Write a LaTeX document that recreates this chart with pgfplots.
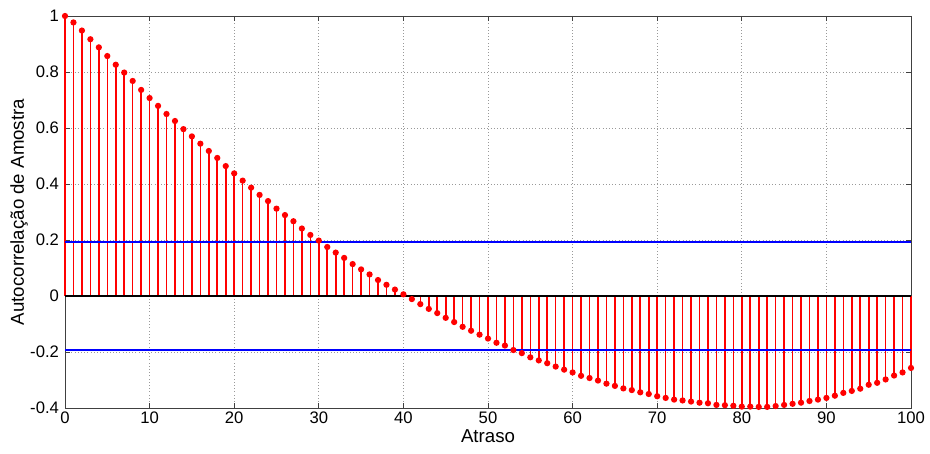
\documentclass[border=0pt]{standalone}
\usepackage{pgfplots}
\pgfplotsset{compat=1.18}
\usepackage{pgfplotstable}
\usepackage{fontspec}
\setmainfont{Liberation Sans}
\pgfplotstableread{
k r
0 1.000
1 0.977
2 0.948
3 0.917
4 0.888
5 0.857
6 0.826
7 0.798
8 0.768
9 0.736
10 0.707
11 0.679
12 0.650
13 0.625
14 0.596
15 0.570
16 0.544
17 0.518
18 0.493
19 0.464
20 0.438
21 0.412
22 0.387
23 0.361
24 0.339
25 0.312
26 0.289
27 0.267
28 0.241
29 0.218
30 0.198
31 0.175
32 0.155
33 0.136
34 0.114
35 0.095
36 0.077
37 0.057
38 0.040
39 0.023
40 0.006
41 -0.011
42 -0.029
43 -0.046
44 -0.061
45 -0.078
46 -0.093
47 -0.110
48 -0.124
49 -0.138
50 -0.152
51 -0.167
52 -0.177
53 -0.193
54 -0.204
55 -0.219
56 -0.230
57 -0.240
58 -0.252
59 -0.263
60 -0.273
61 -0.285
62 -0.293
63 -0.302
64 -0.313
65 -0.321
66 -0.330
67 -0.336
68 -0.344
69 -0.350
70 -0.358
71 -0.364
72 -0.370
73 -0.373
74 -0.377
75 -0.381
76 -0.383
77 -0.389
78 -0.390
79 -0.392
80 -0.395
81 -0.395
82 -0.396
83 -0.396
84 -0.393
85 -0.389
86 -0.385
87 -0.381
88 -0.375
89 -0.370
90 -0.364
91 -0.356
92 -0.346
93 -0.339
94 -0.331
95 -0.317
96 -0.310
97 -0.298
98 -0.284
99 -0.273
100 -0.257
}\acf
\begin{document}
\begin{tikzpicture}
\begin{axis}[
  scale only axis,
  width=634.5pt, height=294pt,
  xmin=0, xmax=100, ymin=-0.4, ymax=1,
  xtick={0,10,...,100},
  ytick={-0.4,-0.2,0,0.2,0.4,0.6,0.8,1},
  yticklabels={-0.4,-0.2,0,0.2,0.4,0.6,0.8,1},
  xticklabels={0,10,20,30,40,50,60,70,80,90,100},
  tick align=inside,
  tick pos=both,
  major tick length=4pt,
  axis line style={black!75, line width=0.6pt},
  every tick/.style={black!75, line width=0.6pt},
  grid=major,
  major grid style={black!40, dotted, line width=0.5pt},
  tick label style={font=\fontsize{12.5}{14}\selectfont},
  label style={font=\fontsize{14}{16}\selectfont},
  xticklabel style={yshift=1pt},
  yticklabel style={xshift=-1pt},
  xlabel={Atraso},
  ylabel={Autocorrelação de Amostra},
  xlabel style={yshift=2pt},
  ylabel style={yshift=-5pt},
  clip=false,
]
\addplot[red, line width=1.2pt, ycomb, mark=*, mark size=1.7pt, mark options={fill=red, draw=red}] table[x=k, y=r] {\acf};
\addplot[black, line width=1pt, no marks] coordinates {(0,0) (100,0)};
\addplot[blue, line width=1.1pt, no marks] coordinates {(0,0.193) (100,0.193)};
\addplot[blue, line width=1.1pt, no marks] coordinates {(0,-0.193) (100,-0.193)};
\coordinate (sw) at (rel axis cs:0,0);
\coordinate (ne) at (rel axis cs:1,1);
\end{axis}
\pgfresetboundingbox
\path ([shift={(-48.75pt,-33.75pt)}]sw) rectangle ([shift={(14.25pt,12pt)}]ne);
\end{tikzpicture}
\end{document}
